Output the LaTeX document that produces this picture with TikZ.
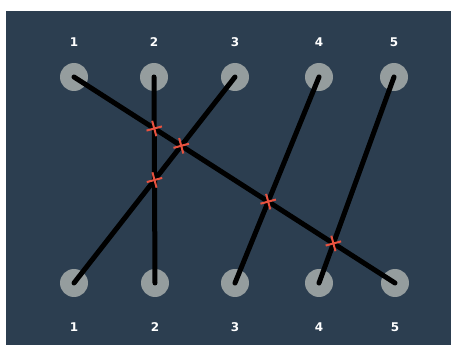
\documentclass[tikz,border=0pt]{standalone}
\usepackage{fontspec}
\setmainfont{DejaVu Sans}
\usetikzlibrary{intersections}
\definecolor{bg}{HTML}{2C3E50}
\definecolor{dotc}{HTML}{959D9E}
\definecolor{crossc}{HTML}{E8523F}
\begin{document}
\begin{tikzpicture}[x=1pt,y=-1pt,
  dot/.style={circle,fill=dotc,minimum size=28pt,inner sep=0pt},
  lab/.style={text=white,font=\bfseries\fontsize{12}{14}\selectfont},
  wire/.style={black,line width=5pt,line cap=round},
  xmark/.style={crossc,line width=2pt}]
\useasboundingbox (0,0) rectangle (451,345);
\fill[white] (0,0) rectangle (451,345);
\fill[bg] (6,11) rectangle (451,345);
\foreach \i/\x in {1/74,2/154,3/235,4/319,5/394}{
  \node[dot] (t\i) at (\x,77) {};
  \node[lab] (lt\i) at (\x,42) {\i};
}
\foreach \i/\x in {1/74,2/155,3/235,4/319,5/395}{
  \node[dot] (b\i) at (\x,283) {};
  \node[lab] (lb\i) at (\x,327) {\i};
}
\draw[wire,name path=L1] (t1.center) -- (b5.center);
\draw[wire,name path=L2] (t2.center) -- (b2.center);
\draw[wire,name path=L3] (t3.center) -- (b1.center);
\draw[wire,name path=L4] (t4.center) -- (b3.center);
\draw[wire,name path=L5] (t5.center) -- (b4.center);
\path[name intersections={of=L1 and L2,by=c12}];
\path[name intersections={of=L1 and L3,by=c13}];
\path[name intersections={of=L1 and L4,by=c14}];
\path[name intersections={of=L1 and L5,by=c15}];
\path[name intersections={of=L2 and L3,by=c23}];
\foreach \c in {c12,c13,c14,c15,c23}{
  \draw[xmark] ([shift={(-15:-8)}]\c) -- ([shift={(-15:8)}]\c);
  \draw[xmark] ([shift={(75:-8)}]\c) -- ([shift={(75:8)}]\c);
}
\end{tikzpicture}
\end{document}
